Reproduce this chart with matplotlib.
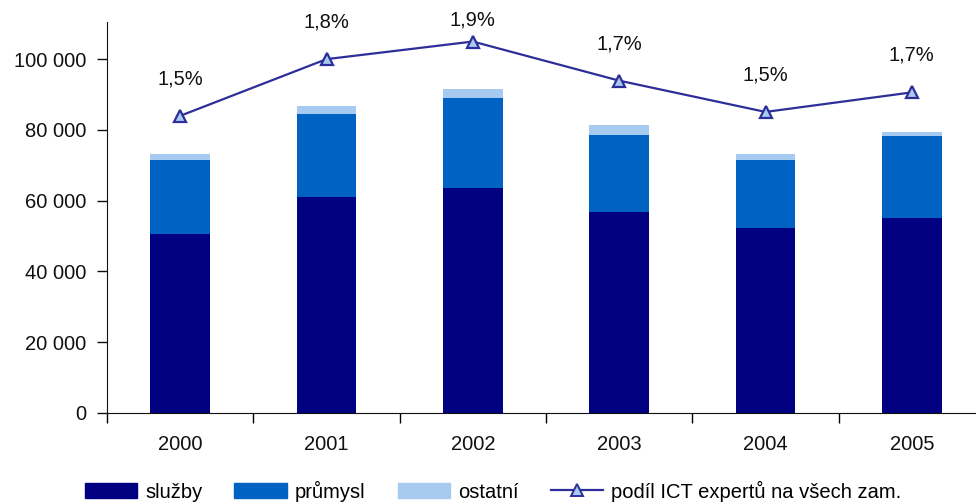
import numpy as np
import matplotlib
matplotlib.use("Agg")
import matplotlib.pyplot as plt
from matplotlib.ticker import FuncFormatter, FixedLocator
from matplotlib.lines import Line2D
from matplotlib.patches import Patch

# data
years = ["2000", "2001", "2002", "2003", "2004", "2005"]
sluzby = [50500, 61100, 63500, 56800, 52200, 55000]
prumysl = [21000, 23400, 25400, 21900, 19200, 23200]
ostatni = [1600, 2200, 2800, 2800, 1700, 1100]
podil = [1.52, 1.81, 1.90, 1.70, 1.54, 1.64]
podil_labels = ["1,5%", "1,8%", "1,9%", "1,7%", "1,5%", "1,7%"]

c_sluzby = "#000080"
c_prumysl = "#0063C4"
c_ostatni = "#A6CAF0"
c_line = "#2E2E9A"

plt.rcParams["font.family"] = ["Liberation Sans", "DejaVu Sans"]
fs = 14.5

fig = plt.figure(figsize=(9.76, 5.04), dpi=100)
W, H = 976, 504
ax = fig.add_axes([107 / W, 91 / H, 878 / W, 391 / H])

x = np.arange(len(years))
bw = 0.41
ax.bar(x, sluzby, bw, color=c_sluzby, label="služby")
ax.bar(x, prumysl, bw, bottom=sluzby, color=c_prumysl, label="průmysl")
bott = np.array(sluzby) + np.array(prumysl)
ax.bar(x, ostatni, bw, bottom=bott, color=c_ostatni, label="ostatní")

ax.set_xlim(-0.5, len(years) - 0.5)
ax.set_ylim(0, 110500)
ax.set_yticks(np.arange(0, 100001, 20000))
ax.yaxis.set_major_formatter(FuncFormatter(lambda v, p: f"{int(v):,}".replace(",", " ")))
ax.tick_params(axis="y", length=7, width=1, pad=8, labelsize=fs, colors="#111111")

# ticks at category boundaries, labels in the middle
ax.xaxis.set_major_locator(FixedLocator(np.arange(-0.5, len(years), 1.0)))
ax.xaxis.set_minor_locator(FixedLocator(x))
ax.set_xticklabels([])
ax.set_xticklabels(years, minor=True)
ax.tick_params(axis="x", which="major", length=7, width=1)
ax.tick_params(axis="x", which="minor", length=0, pad=16, labelsize=fs, colors="#111111")

for s in ["top", "right"]:
    ax.spines[s].set_visible(False)
ax.spines["left"].set_color("#111111")
ax.spines["bottom"].set_color("#111111")

# share of ICT experts on hidden secondary axis
ax2 = ax.twinx()
ax2.set_ylim(0, 2.0)
ax2.axis("off")
ax2.plot(x, podil, color=c_line, lw=1.6, marker="^", markersize=9,
         markerfacecolor=c_ostatni, markeredgecolor=c_line, markeredgewidth=1.6,
         clip_on=False)
lab_y = np.minimum(np.array(podil) + 0.19, 2.01)
for xi, yi, t in zip(x, lab_y, podil_labels):
    ax2.text(xi, yi, t, ha="center", va="center", fontsize=fs, color="#111111", clip_on=False)

handles = [
    Patch(color=c_sluzby, label="služby"),
    Patch(color=c_prumysl, label="průmysl"),
    Patch(color=c_ostatni, label="ostatní"),
    Line2D([0], [0], color=c_line, lw=1.6, marker="^", markersize=8,
           markerfacecolor=c_ostatni, markeredgecolor=c_line, markeredgewidth=1.4,
           label="podíl ICT expertů na všech zam."),
]
fig.legend(handles=handles, loc="center", bbox_to_anchor=(493 / W, 1 - 491 / H),
           ncol=4, frameon=False, fontsize=fs, handlelength=2.6, handleheight=0.8,
           handletextpad=0.4, columnspacing=1.6, borderpad=0.1)

fig.savefig("out.png", dpi=100)
